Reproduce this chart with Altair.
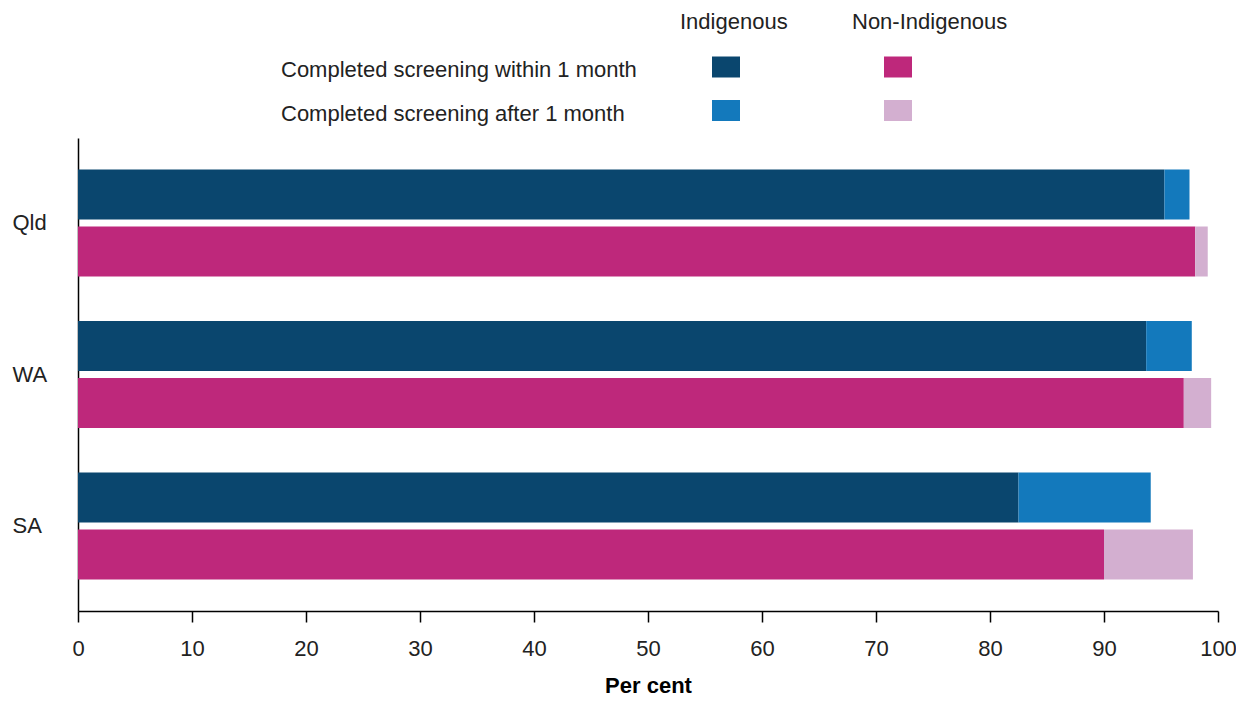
import altair as alt
import pandas as pd

states = ["Qld", "WA", "SA"]
groups = ["Indigenous", "Non-Indigenous"]
timings = ["Completed screening within 1 month", "Completed screening after 1 month"]

# per cent, order: Qld, WA, SA
ind_within = [95.3, 93.7, 82.5]
ind_after = [2.2, 4.0, 11.6]
non_within = [98.0, 97.0, 90.0]
non_after = [1.1, 2.4, 7.8]

colors = ["#0A466E", "#1379BC", "#BE287B", "#D3AFD0"]
keys = [f"{g}|{t}" for g in groups for t in timings]

rows = []
for i, s in enumerate(states):
    for g, w, a in [(groups[0], ind_within[i], ind_after[i]), (groups[1], non_within[i], non_after[i])]:
        rows.append(dict(state=s, group=g, timing=timings[0], start=0.0, end=w, key=f"{g}|{timings[0]}"))
        rows.append(dict(state=s, group=g, timing=timings[1], start=w, end=w + a, key=f"{g}|{timings[1]}"))
df = pd.DataFrame(rows)

FONT = "Liberation Sans"
FS = 22
color_scale = alt.Scale(domain=keys, range=colors)

bars = alt.Chart(df).mark_bar().encode(
    x=alt.X("start:Q", scale=alt.Scale(domain=[0, 100], nice=False),
            axis=alt.Axis(values=list(range(0, 101, 10)), title="Per cent", grid=False,
                          labelFontSize=FS, labelFont=FONT, labelColor="#222222", labelFlush=False,
                          tickSize=11, tickWidth=1.5, tickColor="black",
                          domainColor="black", domainWidth=1.5, labelPadding=16,
                          titleFont=FONT, titleFontSize=FS, titleFontWeight="bold",
                          titleColor="black", titlePadding=16)),
    x2="end:Q",
    y=alt.Y("state:N", sort=states, scale=alt.Scale(paddingInner=0, paddingOuter=0.061),
            axis=alt.Axis(title=None, ticks=False, labelAlign="left", labelPadding=66,
                          labelFontSize=FS, labelFont=FONT, labelColor="#222222",
                          domainColor="black", domainWidth=1.5)),
    yOffset=alt.YOffset("group:N", sort=groups, scale=alt.Scale(paddingInner=0.123, paddingOuter=0.39)),
    color=alt.Color("key:N", scale=color_scale, legend=None),
)

leg_df = pd.DataFrame([dict(group=g, timing=t, key=f"{g}|{t}") for g in groups for t in timings])
hdr_df = pd.DataFrame(dict(group=groups))
row_df = pd.DataFrame(dict(timing=timings))

lx = alt.Scale(type="point", domain=groups, range=[648, 820], padding=0)
ly = alt.Scale(type="point", domain=timings, range=[-71, -27.5], padding=0)

swatches = alt.Chart(leg_df).mark_point(
    shape="M-1.3333,-1H1.3333V1H-1.3333Z", size=441, filled=True, opacity=1, strokeWidth=0
).encode(
    x=alt.X("group:N", scale=lx, axis=None),
    y=alt.Y("timing:N", scale=ly, axis=None),
    color=alt.Color("key:N", scale=color_scale, legend=None),
)
headers = alt.Chart(hdr_df).mark_text(
    align="left", baseline="middle", dx=-46, fontSize=FS, font=FONT, color="#222222"
).encode(
    x=alt.X("group:N", scale=lx, axis=None),
    y=alt.value(-116),
    text="group:N",
)
rowlabels = alt.Chart(row_df).mark_text(
    align="left", baseline="middle", dy=3, fontSize=FS, font=FONT, color="#222222"
).encode(
    x=alt.value(203),
    y=alt.Y("timing:N", scale=ly, axis=None),
    text="timing:N",
)

legend = alt.layer(swatches, headers, rowlabels)

chart = alt.layer(bars, legend).resolve_scale(x="independent", y="independent").properties(
    width=1140, height=473,
    autosize=alt.AutoSizeParams(type="none"),
    padding={"left": 70, "top": 130, "right": 18, "bottom": 85},
).configure_view(strokeWidth=0, stroke=None)

chart.save("out.html", embed_options={"renderer": "svg", "actions": False})
